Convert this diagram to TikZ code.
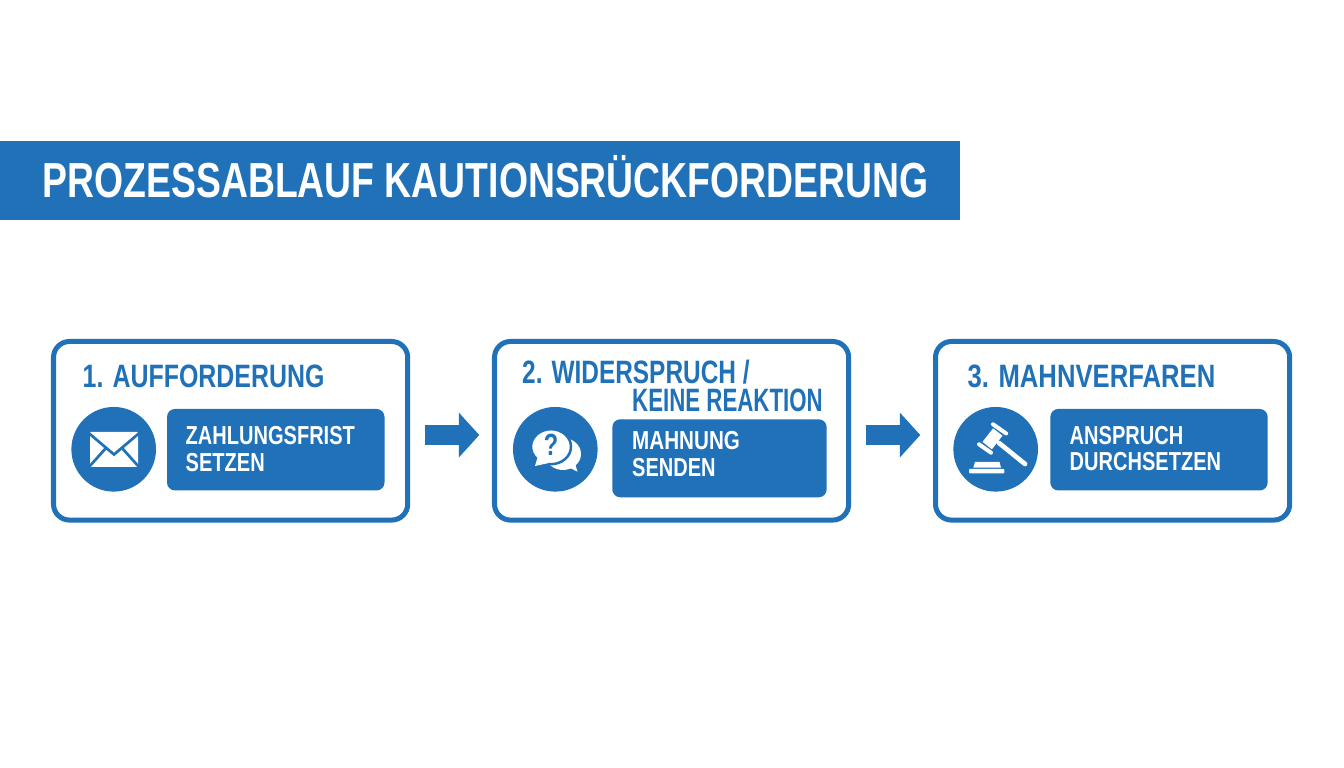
\documentclass[tikz,border=0pt]{standalone}
\usepackage{fontspec}
\setmainfont{Liberation Sans}[FakeStretch=0.77]
\usepackage{tikz}
\usetikzlibrary{calc,positioning,arrows.meta}

\definecolor{kblue}{RGB}{32,113,184}

\tikzset{
    stepbox/.style={draw=kblue, line width=0.5mm, rounded corners=1.6mm, fill=white, outer sep=0pt, minimum width=3.54cm, minimum height=1.785cm, anchor=north west},
    infobox/.style={fill=kblue, rounded corners=0.8mm},
    iconball/.style={circle, fill=kblue, minimum size=8.46mm, inner sep=0pt},
    steptext/.style={anchor=base west, text=kblue, font=\bfseries\fontsize{9.2}{9.2}\selectfont, inner sep=0pt},
    infotext/.style={anchor=base west, text=white, font=\bfseries\fontsize{7.4}{7.4}\selectfont, inner sep=0pt},
    flow/.style={draw=kblue, line width=2.07mm, -{Triangle[length=2.03mm,width=4.34mm]}, shorten <=1.7mm, shorten >=1.52mm}
}

\begin{document}
\begin{tikzpicture}[x=0.01cm, y=-0.01cm]
    \useasboundingbox (0,0) rectangle (1344,768);
    \fill[white] (0,0) rectangle (1344,768);

    % title
    \fill[kblue] (0,141) rectangle (960,220);
    \node[anchor=base west, text=white, inner sep=0pt, font=\bfseries\fontsize{14}{14}\selectfont] (title) at (42,198) {\scalebox{0.985}[1]{PROZESSABLAUF KAUTIONSRÜCKFORDERUNG}};

    % boxes
    \node[stepbox] (box1) at (53.5,341.5) {};
    \node[stepbox] (box2) at (494.5,341.5) {};
    \node[stepbox] (box3) at (935.5,341.5) {};

    \node[steptext] (head1) at (82,388) {1. AUFFORDERUNG};
    \node[steptext] (head2) at (521.5,384) {\scalebox{0.98}[1]{2. WIDERSPRUCH /}};
    \node[steptext] (head2b) at (631.5,412) {\scalebox{0.894}[1]{KEINE REAKTION}};
    \node[steptext] (head3) at (967,388) {\scalebox{1.03}[1]{3. MAHNVERFAREN}};

    \node[iconball] (ball1) at (113.7,449.3) {};
    \node[iconball] (ball2) at (555.3,449.3) {};
    \node[iconball] (ball3) at (995.7,449.3) {};

    \fill[infobox] (167,409) rectangle (384.5,490.5);
    \fill[infobox] (612.3,419.3) rectangle (826.7,497.3);
    \fill[infobox] (1050.3,409) rectangle (1267.7,490.5);

    \node[infotext] (text1a) at (185,445) {ZAHLUNGSFRIST};
    \node[infotext] (text1b) at (185,471.5) {SETZEN};
    \node[infotext] (text2a) at (631.5,450) {\scalebox{1.03}[1]{MAHNUNG}};
    \node[infotext] (text2b) at (631.5,477) {SENDEN};
    \node[infotext] (text3a) at (1069,445) {ANSPRUCH};
    \node[infotext] (text3b) at (1069,471) {DURCHSETZEN};

    % arrows
    \draw[flow] ([yshift=-0.0425cm]box1.east) -- ([yshift=-0.0425cm]box2.west);
    \draw[flow] ([yshift=-0.0425cm]box2.east) -- ([yshift=-0.0425cm]box3.west);

    % envelope
    \fill[white, rounded corners=0.1mm] (90,432) rectangle (138,467);
    \draw[kblue, line width=0.27mm] (88,432.5) -- (114,454.5) -- (140,432.5);
    \draw[kblue, line width=0.27mm] (89,467) -- (106,448);
    \draw[kblue, line width=0.27mm] (139,467) -- (122,448);

    % speech bubbles
    \fill[white] (563,454) ellipse (18 and 16);
    \fill[white] (566,466) -- (577.5,471.7) -- (574,460) -- cycle;
    \draw[kblue, fill=white, line width=0.25mm] (551,446.7) ellipse (20 and 17.5);
    \fill[white] (538,456) -- (535,466) -- (549,463) -- cycle;
    \node[text=kblue, inner sep=0pt, font=\bfseries\fontsize{8.7}{8.7}\selectfont] (qmark) at (551,445) {?};

    % gavel
    \draw[white, line width=0.4mm, line cap=round] (993,424.3) -- (1006.2,433.5);
    \draw[white, line width=0.4mm, line cap=round] (979,444.3) -- (991,452.7);
    \fill[white] (993.1,428.3) -- (1002.5,435.7) -- (991.9,449.3) -- (982.5,441.9) -- cycle;
    \draw[white, line width=0.47mm, line cap=round] (999,443) -- (1025,464);
    \fill[white] (975,462) -- (999.5,462) -- (1001,467.7) -- (973.3,467.7) -- cycle;
    \fill[white, rounded corners=0.1mm] (969,469) rectangle (1004.3,473.5);
\end{tikzpicture}
\end{document}
